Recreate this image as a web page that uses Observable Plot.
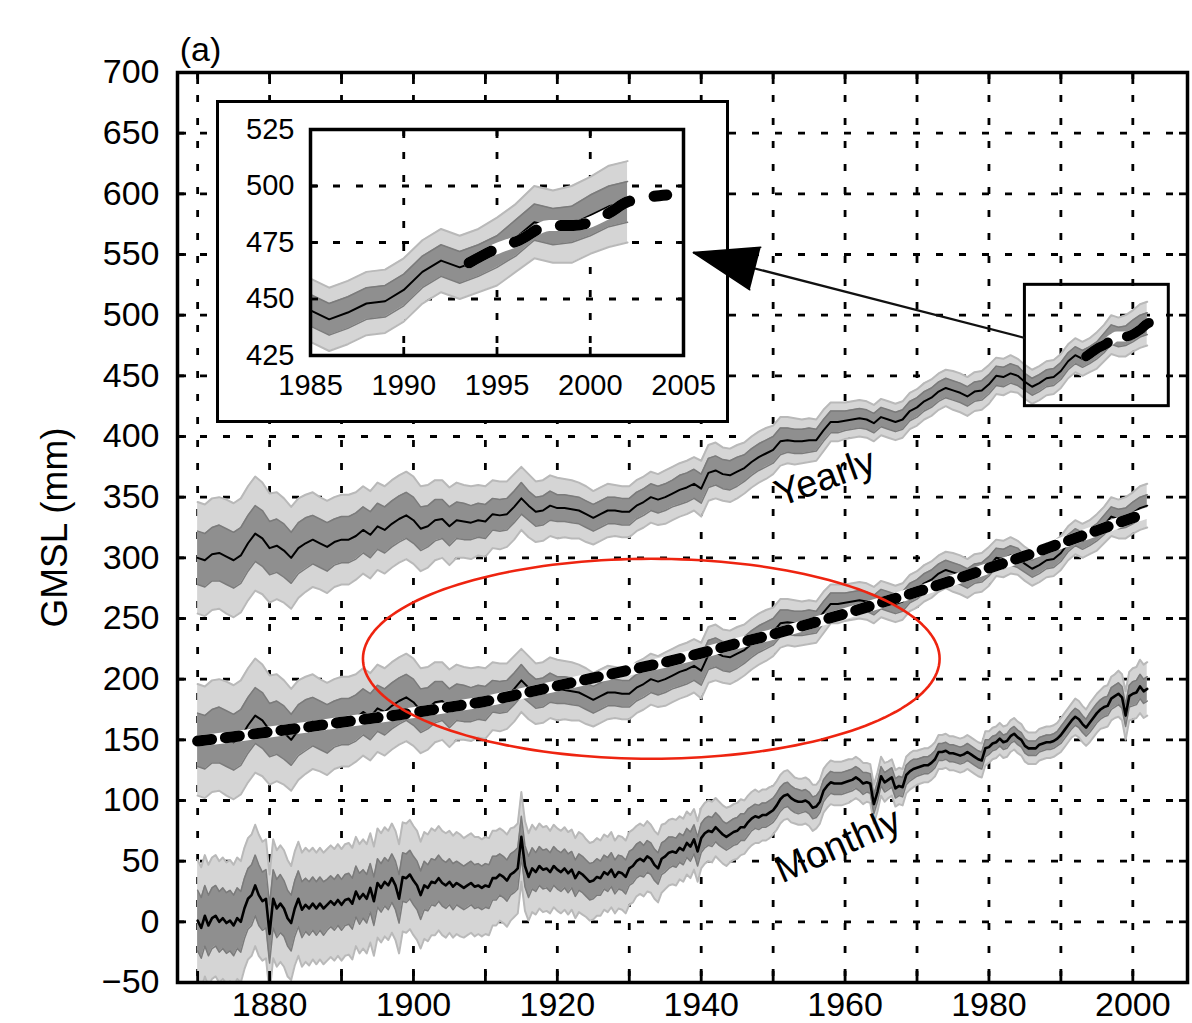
<!DOCTYPE html>
<html><head><meta charset="utf-8">
<script src="https://cdn.jsdelivr.net/npm/d3@7"></script>
<script src="https://cdn.jsdelivr.net/npm/@observablehq/plot@0.6"></script>
<style>
html,body{margin:0;padding:0;background:#fff;}
#wrap{position:relative;width:1192px;height:1023px;overflow:hidden;background:#fff;}
#wrap > svg{position:absolute;}
</style></head><body><div id="wrap"></div>
<script>
// ---------------- DATA ----------------
const yearStart = 1870;
// Yearly GMSL (mm), upper ("Yearly") curve, one value per year 1870..2002
const yearlyGMSL = [
  300,298,303,304,301,298,302,312,320,316,
  308,310,306,300,308,312,315,312,309,313,
  315,315,318,323,319,326,323,328,332,335,
  331,324,326,331,332,326,331,330,329,331,
  330,336,335,336,342,349,343,338,339,343,
  341,341,340,339,336,333,336,339,339,338,
  338,343,346,350,348,350,353,356,358,361,
  357,370,372,369,368,371,374,379,383,386,
  389,396,397,396,396,397,397,405,412,412,
  413,414,415,414,411,416,414,412,414,421,
  424,429,432,437,440,438,436,433,437,438,
  443,450,449,452,450,445,441,444,448,449,
  454,462,467,464,467,471,477,484,482,483,
  487,491,493
];
// half-width of the dark (inner) uncertainty band, mm
const yearlyDark = [
  22,22,22,23,23,23,23,23,23,23,
  22,22,22,21,21,21,20,20,20,19,
  19,19,19,19,19,19,19,19,19,19,
  19,18,17,17,16,16,15,15,14,14,
  14,13,13,13,13,13,12,12,12,12,
  11,11,11,11,11,11,11,11,11,11,
  11,11,11,11,11,11,11,12,12,12,
  12,12,12,12,12,12,11,11,11,11,
  11,11,10,10,10,10,9,9,9,9,
  8,8,8,8,8,8,8,8,8,8,
  8,8,8,8,8,8,8,8,8,8,
  8,8,8,8,8,7,7,7,7,7,
  7,7,7,7,7,7,8,8,8,8,
  9,9,9
];
// half-width of the light (outer) uncertainty band, mm
const yearlyLight = [
  46,46,46,46,47,47,47,47,47,46,
  45,44,43,42,41,40,39,38,38,37,
  37,37,36,36,36,36,36,36,36,36,
  36,35,34,33,32,32,31,30,30,29,
  29,28,28,27,27,26,26,25,25,25,
  25,24,24,23,23,22,22,22,21,21,
  21,21,21,21,21,22,22,22,22,22,
  23,23,23,22,22,22,21,21,21,21,
  20,20,19,19,18,18,17,17,16,16,
  15,15,15,15,15,15,15,15,15,15,
  15,15,15,15,15,16,16,16,16,16,
  16,15,15,15,14,14,14,14,14,14,
  14,14,14,14,14,15,15,16,16,17,
  17,18,18
];
// offset between the "Yearly" curve and the middle copy of it (mm)
const middleShift = 150;

// Monthly GMSL (mm), read every half year from 1870.0 to 2002.0
const monthlyStart = 1870, monthlyStep = 0.5;
const monthlyGMSL = [
  1,-5, 5,-3, 3,5, 0,3, -1,1, -3,3, 0,11, 19,22, 30,22, 17,19,
  -10,19, 11,15, 11,3, -1,11, 19,10, 14,11, 15,11, 15,11, 14,17, 14,18,
  14,18, 19,15, 25,19, 23,19, 28,17, 32,28, 33,30, 36,30, 19,37, 36,39,
  34,30, 22,30, 28,33, 32,36, 32,30, 33,29, 32,30, 28,30, 32,29, 30,28,
  30,29, 36,36, 39,37, 34,39, 41,44, 70,46, 37,44, 41,46, 43,44, 41,46,
  43,41, 44,40, 43,36, 41,39, 36,33, 34,37, 36,41, 39,43, 37,41, 40,37,
  44,46, 50,52, 50,54, 52,47, 44,52, 54,57, 58,57, 61,59, 65,62, 68,58,
  69,73, 75,74, 78,75, 72,70, 72,74, 75,78, 78,82, 85,87, 86,88, 88,90,
  92,96, 101,104, 105,102, 100,99, 99,100, 98,94, 95,99, 108,112, 115,114, 114,114,
  115,116, 117,119, 117,114, 115,114, 97,107, 120,115, 117,119, 110,112, 111,121, 124,126,
  127,128, 129,129, 131,134, 140,140, 141,139, 139,138, 137,138, 140,138, 136,134, 133,143,
  144,147, 148,151, 148,149, 153,155, 152,150, 145,143, 143,143, 146,147, 148,148, 149,151,
  154,158, 162,166, 169,167, 163,160, 164,168, 172,175, 177,178, 184,186, 188,185, 170,186,
  188,189, 194,190, 192
];
// monthly band half-widths, one per year 1870..2002
const monthlyDark = [
  25,25,25,25,25,25,25,25,25,24,
  24,24,23,23,23,22,22,22,21,21,
  21,21,21,20,20,20,20,20,20,20,
  20,20,19,19,19,19,18,18,18,18,
  18,18,17,17,17,17,17,16,16,16,
  16,16,15,15,15,15,14,14,14,14,
  14,14,13,13,13,13,12,12,12,12,
  12,12,12,11,11,11,11,10,10,10,
  10,10,10,10,9,9,9,9,9,9,
  9,9,9,8,8,8,8,8,8,8,
  7,7,7,7,7,7,7,7,7,7,
  6,6,6,6,6,6,6,6,6,6,
  7,7,7,7,8,8,8,9,9,9,
  10,10,10
];
const monthlyLight = [
  50,50,50,50,50,50,50,50,50,49,
  49,48,48,47,47,47,46,46,46,46,
  46,46,45,45,45,45,45,45,45,45,
  45,44,44,43,43,42,42,41,41,40,
  40,39,38,38,37,37,36,35,35,34,
  34,34,33,33,32,32,31,31,30,30,
  30,29,29,28,28,27,27,26,26,25,
  25,25,24,24,23,23,22,22,21,21,
  20,20,20,19,19,19,18,18,18,18,
  18,17,17,16,16,16,15,15,15,15,
  14,14,14,14,14,14,14,14,14,14,
  13,13,13,13,13,13,13,13,13,13,
  14,14,15,15,16,16,17,18,19,20,
  21,22,22
];

// smooth fit drawn over the middle curve (mm)
const fitYears  = [1870,1875,1880,1885,1890,1895,1900,1905,1910,1915,1920,1925,1930,1935,1940,1945,1950,1955,1960,1965,1970,1975,1980,1985,1990,1995,2000,2002];
const fitValues = [149,152.6,156.5,160.3,164.5,168.3,172.4,177,181.7,188,194.5,201,207.5,214,221.5,229.5,237,245.5,254,263,272,281.5,291.5,301.5,312,322.5,333,337];

// satellite-era dashed record (mm)
const altYears  = [1993.5,1994.9,1996.2,1997.8,1999.1,2001.0,2002.0,2004.1];
const altValues = [466,472,476,482.5,482.5,488,493,496];

// axes / ticks
const xDomain = [1867.2, 2007.6];
const yDomain = [-50, 700];
const xGridYears = [1870,1880,1890,1900,1910,1920,1930,1940,1950,1960,1970,1980,1990,2000];
const xTickLabels = [1880,1900,1920,1940,1960,1980,2000];
const yTickValues = [-50,0,50,100,150,200,250,300,350,400,450,500,550,600,650,700];

const insetXDomain = [1985, 2005];
const insetYDomain = [425, 525];
const insetXTicks = [1985,1990,1995,2000,2005];
const insetYTicks = [425,450,475,500,525];
const insetXGrid = [1990,1995,2000];
const insetYGrid = [450,475,500];

// annotations
const panelLabel = "(a)";
const yLabel = "GMSL (mm)";
const curveLabels = [
  {text: "Yearly",  x: 1957.2, y: 366, angle: -20},
  {text: "Monthly", x: 1959.0, y: 63,  angle: -24}
];
const ellipse = {cx: 1933.06, cy: 216.8, rx: 40.08, ry: 82.4};
const arrow = {x1: 1985, y1: 481.2, x2: 1938.9, y2: 551.6};

// ---------------- BUILD ----------------
const FONT = "'Liberation Sans', Arial, Helvetica, sans-serif";
const LIGHT = "#d5d5d5", LIGHT_EDGE = "#b9b9b9", DARK = "#8f8f8f", DARK_EDGE = "#7b7b7b";
const GRID = {stroke: "black", strokeOpacity: 1, strokeWidth: 2.8, strokeDasharray: "7,16"};
const yearFmt = d3.format("d");

const years = d3.range(yearStart, yearStart + yearlyGMSL.length);
const yearly = years.map((year, i) => ({x: year, v: yearlyGMSL[i], d: yearlyDark[i], l: yearlyLight[i]}));
const middle = yearly.map(r => ({...r, v: r.v - middleShift}));
const monthly = monthlyGMSL.map((v, i) => {
  const t = monthlyStart + i * monthlyStep;
  const k = Math.min(Math.floor(t) - yearStart, monthlyDark.length - 1);
  return {x: t, v, d: monthlyDark[k], l: monthlyLight[k]};
});
const fit = fitYears.map((x, i) => ({x, v: fitValues[i]}));
const alt = altYears.map((x, i) => ({x, v: altValues[i]}));

function band(data, lineWidth) {
  const o = {x: "x", clip: true};
  return [
    Plot.areaY(data, {...o, y1: d => d.v - d.l, y2: d => d.v + d.l, fill: LIGHT}),
    Plot.lineY(data, {...o, y: d => d.v + d.l, stroke: LIGHT_EDGE, strokeWidth: 2}),
    Plot.lineY(data, {...o, y: d => d.v - d.l, stroke: LIGHT_EDGE, strokeWidth: 2}),
    Plot.areaY(data, {...o, y1: d => d.v - d.d, y2: d => d.v + d.d, fill: DARK}),
    Plot.lineY(data, {...o, y: d => d.v + d.d, stroke: DARK_EDGE, strokeWidth: 1.5}),
    Plot.lineY(data, {...o, y: d => d.v - d.d, stroke: DARK_EDGE, strokeWidth: 1.5}),
    Plot.lineY(data, {...o, y: "v", stroke: "black", strokeWidth: lineWidth})
  ];
}
function dashed(data, width, dash) {
  return [
    Plot.line(data, {x: "x", y: "v", stroke: "white", strokeWidth: width, curve: "monotone-x", clip: true}),
    Plot.line(data, {x: "x", y: "v", stroke: "black", strokeWidth: width, strokeDasharray: dash, curve: "monotone-x", clip: true})
  ];
}
const blank = () => "";

const W = 1192, H = 1023;
const common = {
  width: W, height: H,
  marginLeft: 177, marginRight: 5, marginTop: 72, marginBottom: 41,
  x: {domain: xDomain}, y: {domain: yDomain}
};

const main = Plot.plot({
  ...common,
  style: {fontFamily: FONT, fontSize: "34px", color: "black", background: "white"},
  marks: [
    Plot.gridX(xGridYears, GRID),
    Plot.gridY(yTickValues, GRID),
    ...band(yearly, 2),
    ...band(middle, 2),
    ...dashed(fit, 11, "14,14"),
    ...band(monthly, 2.6),
    ...dashed(alt, 10, "26,21"),
    Plot.line(d3.range(0, 361, 2), {
      x: a => ellipse.cx + ellipse.rx * Math.cos(a * Math.PI / 180),
      y: a => ellipse.cy + ellipse.ry * Math.sin(a * Math.PI / 180),
      stroke: "#ee2410", strokeWidth: 2.6
    }),
    Plot.rect([{x1: insetXDomain[0], x2: insetXDomain[1], y1: insetYDomain[0], y2: insetYDomain[1]}],
      {x1: "x1", x2: "x2", y1: "y1", y2: "y2", fill: "none", stroke: "black", strokeWidth: 3}),
    Plot.frame({stroke: "black", strokeWidth: 3.5}),
    Plot.axisX(xTickLabels, {anchor: "bottom", tickSize: 0, tickPadding: 9, tickFormat: yearFmt, label: null}),
    Plot.axisX(xGridYears, {anchor: "bottom", tickSize: 11, dy: -11, tickFormat: blank, label: null, strokeWidth: 2.8}),
    Plot.axisX(xGridYears, {anchor: "top", tickSize: 11, dy: 11, tickFormat: blank, label: null, strokeWidth: 2.8}),
    Plot.axisY(yTickValues, {anchor: "left", tickSize: 0, tickPadding: 18, label: null}),
    Plot.axisY(yTickValues, {anchor: "left", tickSize: 9, dx: 9, tickFormat: blank, label: null, strokeWidth: 2.8}),
    Plot.axisY(yTickValues, {anchor: "right", tickSize: 9, dx: -9, tickFormat: blank, label: null, strokeWidth: 2.8}),
    Plot.text([yLabel], {frameAnchor: "left", dx: -122, rotate: -90, text: d => d, fontSize: 37, textAnchor: "middle", lineAnchor: "middle"}),
    Plot.text([panelLabel], {frameAnchor: "top-left", dx: 23, dy: -22, text: d => d, fontSize: 34, textAnchor: "middle", lineAnchor: "middle"}),
    Plot.text(curveLabels, {x: "x", y: "y", text: "text", rotate: "angle", fontSize: 38})
  ]
});
main.style.left = "0px"; main.style.top = "0px";

// ---------------- INSET ----------------
const IW = 513, IH = 323;
const inset = Plot.plot({
  width: IW, height: IH,
  marginLeft: 94, marginRight: 46, marginTop: 29, marginBottom: 68,
  x: {domain: insetXDomain}, y: {domain: insetYDomain},
  style: {fontFamily: FONT, fontSize: "29px", color: "black", background: "white"},
  marks: [
    Plot.gridX(insetXGrid, GRID),
    Plot.gridY(insetYGrid, GRID),
    ...band(yearly.filter(d => d.x >= insetXDomain[0]), 2),
    ...dashed(alt, 11, "25,25"),
    Plot.frame({stroke: "black", strokeWidth: 3.5}),
    Plot.axisX(insetXTicks, {anchor: "bottom", tickSize: 0, tickPadding: 19, tickFormat: yearFmt, label: null}),
    Plot.axisX(insetXGrid, {anchor: "bottom", tickSize: 8, dy: -8, tickFormat: blank, label: null, strokeWidth: 2.8}),
    Plot.axisX(insetXGrid, {anchor: "top", tickSize: 8, dy: 8, tickFormat: blank, label: null, strokeWidth: 2.8}),
    Plot.axisY(insetYTicks, {anchor: "left", tickSize: 0, tickPadding: 16, label: null}),
    Plot.axisY(insetYGrid, {anchor: "left", tickSize: 8, dx: 8, tickFormat: blank, label: null, strokeWidth: 2.8}),
    Plot.axisY(insetYGrid, {anchor: "right", tickSize: 8, dx: -8, tickFormat: blank, label: null, strokeWidth: 2.8})
  ]
});
inset.style.left = "216px"; inset.style.top = "100px";
inset.style.outline = "3px solid black"; inset.style.outlineOffset = "-3px";

// ---------------- ARROW OVERLAY ----------------
const over = Plot.plot({
  ...common,
  x: {domain: xDomain, axis: null}, y: {domain: yDomain, axis: null},
  style: {background: "transparent"},
  marks: [
    Plot.link([arrow], {x1: "x1", y1: "y1", x2: "x2", y2: "y2", stroke: "#111", strokeWidth: 2.2}),
    Plot.vector([arrow], {x: "x2", y: "y2", length: 64, rotate: -75.6, r: 22, shape: "spike", anchor: "end", fill: "black", stroke: "black"})
  ]
});
over.style.left = "0px"; over.style.top = "0px";

const wrap = document.getElementById("wrap");
wrap.append(main, inset, over);
</script></body></html>
